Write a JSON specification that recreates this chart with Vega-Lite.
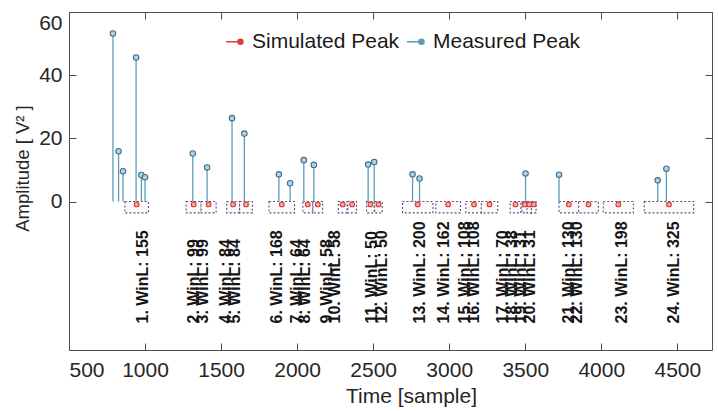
{
  "$schema": "https://vega.github.io/schema/vega-lite/v6.json",
  "width": 643,
  "height": 338,
  "autosize": {"type": "none"},
  "padding": {"left": 69, "top": 12, "right": 6, "bottom": 61},
  "background": "white",
  "config": {
    "view": {"stroke": "#4d4d4d", "strokeWidth": 1},
    "font": "Liberation Sans",
    "axis": {
      "grid": false,
      "domain": false,
      "tickColor": "#4d4d4d",
      "tickSize": -7,
      "labelFont": "Liberation Sans",
      "labelFontSize": 21,
      "labelColor": "#262626",
      "titleFont": "Liberation Sans",
      "titleColor": "#262626",
      "titleFontWeight": "normal"
    },
    "legend": {"padding": 0}
  },
  "datasets": {
    "measured": [
      {"x": 789, "amp": 53.2, "series": "Measured Peak"},
      {"x": 826, "amp": 15.9, "series": "Measured Peak"},
      {"x": 855, "amp": 9.6, "series": "Measured Peak"},
      {"x": 941, "amp": 45.6, "series": "Measured Peak"},
      {"x": 976, "amp": 8.4, "series": "Measured Peak"},
      {"x": 1000, "amp": 7.7, "series": "Measured Peak"},
      {"x": 1314, "amp": 15.2, "series": "Measured Peak"},
      {"x": 1408, "amp": 10.8, "series": "Measured Peak"},
      {"x": 1572, "amp": 26.4, "series": "Measured Peak"},
      {"x": 1653, "amp": 21.5, "series": "Measured Peak"},
      {"x": 1880, "amp": 8.6, "series": "Measured Peak"},
      {"x": 1954, "amp": 5.8, "series": "Measured Peak"},
      {"x": 2044, "amp": 13.1, "series": "Measured Peak"},
      {"x": 2110, "amp": 11.6, "series": "Measured Peak"},
      {"x": 2467, "amp": 11.7, "series": "Measured Peak"},
      {"x": 2507, "amp": 12.5, "series": "Measured Peak"},
      {"x": 2759, "amp": 8.6, "series": "Measured Peak"},
      {"x": 2805, "amp": 7.3, "series": "Measured Peak"},
      {"x": 3502, "amp": 8.9, "series": "Measured Peak"},
      {"x": 3722, "amp": 8.5, "series": "Measured Peak"},
      {"x": 4371, "amp": 6.7, "series": "Measured Peak"},
      {"x": 4428, "amp": 10.4, "series": "Measured Peak"}
    ],
    "sim": [
      {"x": 945, "amp": -0.9, "start": 867.5, "end": 1022.5, "labelX": 989, "label": "1. WinL: 155", "series": "Simulated Peak"},
      {"x": 1320, "amp": -0.9, "start": 1270.5, "end": 1369.5, "labelX": 1322, "label": "2. WinL: 99", "series": "Simulated Peak"},
      {"x": 1418, "amp": -0.9, "start": 1368.5, "end": 1467.5, "labelX": 1379, "label": "3. WinL: 99", "series": "Simulated Peak"},
      {"x": 1579, "amp": -0.9, "start": 1537, "end": 1621, "labelX": 1533, "label": "4. WinL: 84", "series": "Simulated Peak"},
      {"x": 1664, "amp": -0.9, "start": 1622, "end": 1706, "labelX": 1592, "label": "5. WinL: 84", "series": "Simulated Peak"},
      {"x": 1899, "amp": -0.9, "start": 1815, "end": 1983, "labelX": 1866, "label": "6. WinL: 168", "series": "Simulated Peak"},
      {"x": 2070, "amp": -0.9, "start": 2038, "end": 2102, "labelX": 1998, "label": "7. WinL: 64", "series": "Simulated Peak"},
      {"x": 2136, "amp": -0.9, "start": 2104, "end": 2168, "labelX": 2053, "label": "8. WinL: 64", "series": "Simulated Peak"},
      {"x": 2300, "amp": -0.9, "start": 2271, "end": 2329, "labelX": 2195, "label": "9. WinL: 58", "series": "Simulated Peak"},
      {"x": 2362, "amp": -0.9, "start": 2333, "end": 2391, "labelX": 2250, "label": "10. WinL: 58", "series": "Simulated Peak"},
      {"x": 2482, "amp": -0.9, "start": 2457, "end": 2507, "labelX": 2491, "label": "11. WinL: 50", "series": "Simulated Peak"},
      {"x": 2535, "amp": -0.9, "start": 2510, "end": 2560, "labelX": 2557, "label": "12. WinL: 50", "series": "Simulated Peak"},
      {"x": 2793, "amp": -0.9, "start": 2693, "end": 2893, "labelX": 2809, "label": "13. WinL: 200", "series": "Simulated Peak"},
      {"x": 2993, "amp": -0.9, "start": 2912, "end": 3074, "labelX": 2963, "label": "14. WinL: 162", "series": "Simulated Peak"},
      {"x": 3163, "amp": -0.9, "start": 3109, "end": 3217, "labelX": 3105, "label": "15. WinL: 108", "series": "Simulated Peak"},
      {"x": 3265, "amp": -0.9, "start": 3211, "end": 3319, "labelX": 3160, "label": "16. WinL: 108", "series": "Simulated Peak"},
      {"x": 3436, "amp": -0.9, "start": 3401, "end": 3471, "labelX": 3357, "label": "17. WinL: 70", "series": "Simulated Peak"},
      {"x": 3497, "amp": -0.9, "start": 3478, "end": 3516, "labelX": 3416, "label": "18. WinL: 38", "series": "Simulated Peak"},
      {"x": 3527, "amp": -0.9, "start": 3511.5, "end": 3542.5, "labelX": 3471, "label": "19. WinL: 31", "series": "Simulated Peak"},
      {"x": 3556, "amp": -0.9, "start": 3540.5, "end": 3571.5, "labelX": 3528, "label": "20. WinL: 31", "series": "Simulated Peak"},
      {"x": 3787, "amp": -0.9, "start": 3722, "end": 3852, "labelX": 3785, "label": "21. WinL: 130", "series": "Simulated Peak"},
      {"x": 3916, "amp": -0.9, "start": 3851, "end": 3981, "labelX": 3840, "label": "22. WinL: 130", "series": "Simulated Peak"},
      {"x": 4112, "amp": -0.9, "start": 4013, "end": 4211, "labelX": 4136, "label": "23. WinL: 198", "series": "Simulated Peak"},
      {"x": 4445, "amp": -0.9, "start": 4282.5, "end": 4607.5, "labelX": 4480, "label": "24. WinL: 325", "series": "Simulated Peak"}
    ]
  },
  "layer": [
    {
      "data": {"name": "sim"},
      "mark": {"type": "rect", "fill": "#fefafc", "stroke": "#5e4f80", "strokeWidth": 1.1, "strokeDash": [2, 2]},
      "encoding": {
        "x": {
          "field": "start", "type": "quantitative",
          "scale": {"domain": [500, 4728], "nice": false, "zero": false},
          "axis": {"orient": "bottom", "values": [500, 1000, 1500, 2000, 2500, 3000, 3500, 4000, 4500], "format": "d", "title": "Time [sample]", "titleFontSize": 21, "titleX": 342, "titleY": 52, "titleBaseline": "alphabetic", "labelPadding": 16}
        },
        "x2": {"field": "end"},
        "y": {
          "datum": 0, "type": "quantitative",
          "scale": {"domain": [-47, 60], "nice": false, "zero": false},
          "axis": {"orient": "left", "values": [0, 20, 40, 60], "title": "Amplitude [ V² ]", "titleFontSize": 18.5, "titleX": -41, "titleY": 156, "titleBaseline": "alphabetic", "labelFlush": true, "labelFlushOffset": 0, "labelPadding": 14}
        },
        "y2": {"datum": -3.6}
      }
    },
    {
      "mark": {"type": "rule", "color": "#4d4d4d", "strokeWidth": 1},
      "encoding": {"y": {"datum": 0, "type": "quantitative", "axis": null}}
    },
    {
      "data": {"name": "measured"},
      "mark": {"type": "rule", "strokeWidth": 1.3},
      "encoding": {
        "x": {"field": "x", "type": "quantitative", "axis": null},
        "y": {"field": "amp", "type": "quantitative", "axis": null},
        "y2": {"datum": 0},
        "color": {
          "field": "series", "type": "nominal",
          "scale": {"domain": ["Simulated Peak", "Measured Peak"], "range": ["#d8413b", "#5b9bb9"]},
          "legend": {
            "title": null, "orient": "none", "direction": "horizontal",
            "legendX": 155, "legendY": 19,
            "labelFontSize": 21, "labelColor": "#1a1a1a", "labelFont": "Liberation Sans",
            "labelOffset": 7, "columnPadding": 4,
            "symbolType": "M-1,0H0.4M1,0A0.3,0.3,0,1,1,0.4,0A0.3,0.3,0,1,1,1,0",
            "symbolSize": 289, "symbolStrokeWidth": 1.5,
            "encode": {"symbols": {"update": {"fill": {"scale": "color", "field": "value"}, "stroke": {"scale": "color", "field": "value"}}}}
          }
        }
      }
    },
    {
      "data": {"name": "sim"},
      "mark": {"type": "rule", "strokeWidth": 1.3},
      "encoding": {
        "x": {"field": "x", "type": "quantitative", "axis": null},
        "y": {"field": "amp", "type": "quantitative", "axis": null},
        "y2": {"datum": 0},
        "color": {"field": "series", "type": "nominal"}
      }
    },
    {
      "data": {"name": "measured"},
      "mark": {"type": "point", "shape": "circle", "filled": true, "fill": "#b2d3e3", "stroke": "#3c6f8d", "strokeWidth": 1.1, "size": 30, "opacity": 1},
      "encoding": {
        "x": {"field": "x", "type": "quantitative", "axis": null},
        "y": {"field": "amp", "type": "quantitative", "axis": null}
      }
    },
    {
      "data": {"name": "sim"},
      "mark": {"type": "point", "shape": "circle", "filled": true, "fill": "#f3aaa4", "stroke": "#d0352f", "strokeWidth": 1.1, "size": 22, "opacity": 1},
      "encoding": {
        "x": {"field": "x", "type": "quantitative", "axis": null},
        "y": {"field": "amp", "type": "quantitative", "axis": null}
      }
    },
    {
      "data": {"name": "sim"},
      "mark": {"type": "text", "angle": -90, "align": "left", "baseline": "middle", "fontSize": 16, "fontWeight": "bold", "font": "Liberation Sans", "color": "#151515"},
      "encoding": {
        "x": {
          "field": "labelX", "type": "quantitative",
          "scale": {"domain": [500, 4728], "nice": false, "zero": false},
          "axis": {"orient": "top", "values": [500, 1000, 1500, 2000, 2500, 3000, 3500, 4000, 4500], "labels": false, "title": null}
        },
        "y": {
          "datum": -38.6, "type": "quantitative",
          "axis": {"orient": "right", "values": [0, 20, 40, 60], "labels": false, "title": null}
        },
        "text": {"field": "label"}
      }
    }
  ],
  "resolve": {"axis": {"x": "independent", "y": "independent"}}
}
